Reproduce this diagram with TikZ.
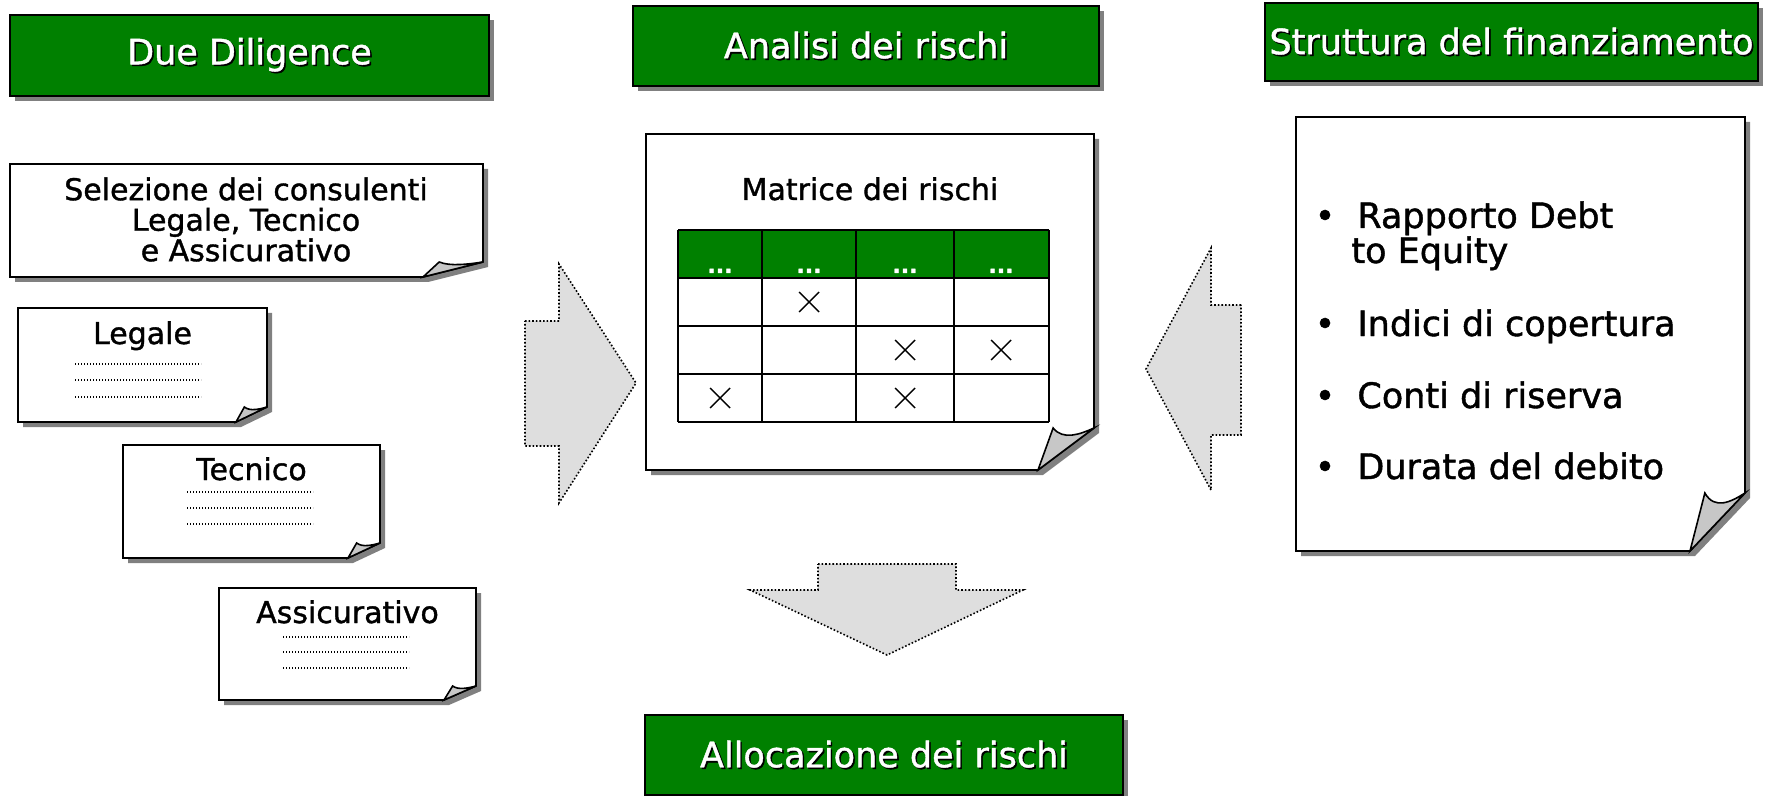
\documentclass[tikz,border=0pt]{standalone}
\usepackage{fontspec}
\setmainfont{DejaVu Sans}[FakeBold=1.2]
\usetikzlibrary{shadows}
\definecolor{pptgreen}{RGB}{0,128,0}
\tikzset{
  titlebox/.style={draw=black, line width=1pt, fill=pptgreen, inner sep=0pt,
    font=\fontsize{17.5pt}{21pt}\selectfont,
    drop shadow={shadow xshift=2.5pt, shadow yshift=-2.5pt, fill=black!50, opacity=1}},
  docline/.style={line width=0.8pt},
  doctext/.style={inner sep=0pt, font=\fontsize{15pt}{15.25pt}\selectfont},
  bullettext/.style={anchor=base west, inner sep=0pt, font=\fontsize{17.5pt}{21pt}\selectfont},
  blockarrow/.style={fill=black!13, draw=black, densely dotted, line width=0.8pt},
  gridline/.style={line width=1pt},
  crossmark/.style={line width=0.7pt},
  fillerline/.style={dash pattern=on 0.6pt off 0.9pt, line width=0.6pt},
  hdots/.style={anchor=base, inner sep=0pt, text=white, font=\bfseries\fontsize{11pt}{11pt}\selectfont}
}
% white title text with a dark shadow
\newcommand{\shtitle}[1]{\rlap{\kern0.8pt\raisebox{-0.8pt}{\textcolor{black}{#1}}}\textcolor{white}{#1}}
% page with folded corner: left, top, right, bottom, fold width, fold height
\newcommand{\docpage}[6]{%
  \fill[black!50] (#1+5,#2+5) -- (#3+5,#2+5) -- (#3+5,#4+5-#6) -- (#3+5-#5,#4+5) -- (#1+5,#4+5) -- cycle;
  \draw[docline, fill=white] (#1,#2) -- (#3,#2) -- (#3,#4-#6) -- (#3-#5,#4) -- (#1,#4) -- cycle;
  \draw[docline, fill=black!22] (#3-#5,#4) -- (#3-0.73*#5,#4-#6)
    .. controls (#3-0.55*#5,#4-0.7*#6) and (#3-0.25*#5,#4-0.85*#6) .. (#3,#4-#6) -- cycle;
}
\begin{document}
\begin{tikzpicture}[x=0.5pt,y=-0.5pt]
\useasboundingbox (0,0) rectangle (1770,796);

% titles
\node[titlebox, minimum width=239.5pt, minimum height=40.5pt] (due) at (249.5,55.5) {\shtitle{Due Diligence}};
\node[titlebox, minimum width=233pt, minimum height=40pt] (analisi) at (866,46) {\shtitle{Analisi dei rischi}};
\node[titlebox, minimum width=246.5pt, minimum height=39pt] (struttura) at (1511.5,42) {\shtitle{Struttura del finanziamento}};
\node[titlebox, minimum width=239pt, minimum height=40pt] (allocazione) at (884,755) {\shtitle{Allocazione dei rischi}};

% due diligence pages
\docpage{10}{164}{483}{277}{60}{15}
\node[doctext, anchor=north, align=center] (selezione) at (246,177) {Selezione dei consulenti\\Legale, Tecnico\\e Assicurativo};

\docpage{18}{308}{267}{422}{31}{15}
\node[doctext, anchor=base] (legale) at (142.5,344) {Legale};
\foreach \y in {364,380,397} \draw[fillerline] (75,\y) -- (201,\y);

\docpage{123}{445}{380}{558}{32}{15}
\node[doctext, anchor=base] (tecnico) at (251.5,480) {Tecnico};
\foreach \y in {492,508,524} \draw[fillerline] (187,\y) -- (313,\y);

\docpage{219}{588}{476}{700}{32}{14}
\node[doctext, anchor=base] (assicurativo) at (347.5,623) {Assicurativo};
\foreach \y in {637,652,668} \draw[fillerline] (283,\y) -- (409,\y);

% risk matrix
\docpage{646}{134}{1094}{470}{56}{42}
\node[doctext, anchor=base] (matrice) at (870,200) {Matrice dei rischi};
\fill[pptgreen] (678,230) rectangle (1049,278);
\foreach \y in {230,278,326,374,422} \draw[gridline] (678,\y) -- (1049,\y);
\foreach \x in {678,762,856,954,1049} \draw[gridline] (\x,230) -- (\x,422);
\foreach \x/\n in {720/1,809/2,905/3,1001/4} \node[hdots] (hd\n) at (\x,273) {...};
\foreach \x/\y in {809/302,905/350,1001/350,720/398,905/398}
  \draw[crossmark] (\x-10,\y-10) -- (\x+10,\y+10) (\x-10,\y+10) -- (\x+10,\y-10);

% financing structure
\docpage{1296}{117}{1745}{551}{55}{58}
\foreach \y/\n in {228/1,336/2,408/3,479/4} \node[bullettext, anchor=base] (b\n) at (1325,\y) {•};
\node[bullettext] (rapporto) at (1357,228) {Rapporto Debt};
\node[bullettext] (equity) at (1351,263) {to Equity};
\node[bullettext] (indici) at (1357,336) {Indici di copertura};
\node[bullettext] (conti) at (1357,408) {Conti di riserva};
\node[bullettext] (durata) at (1357,479) {Durata del debito};

% block arrows
\draw[blockarrow] (525,321) -- (559,321) -- (559,264) -- (636,383) -- (559,503) -- (559,446) -- (525,446) -- cycle;
\draw[blockarrow] (1241,305) -- (1211,305) -- (1211,248) -- (1146,369) -- (1211,490) -- (1211,435) -- (1241,435) -- cycle;
\draw[blockarrow] (818,564) -- (956,564) -- (956,590) -- (1023,590) -- (887,655) -- (750,590) -- (818,590) -- cycle;
\end{tikzpicture}
\end{document}
